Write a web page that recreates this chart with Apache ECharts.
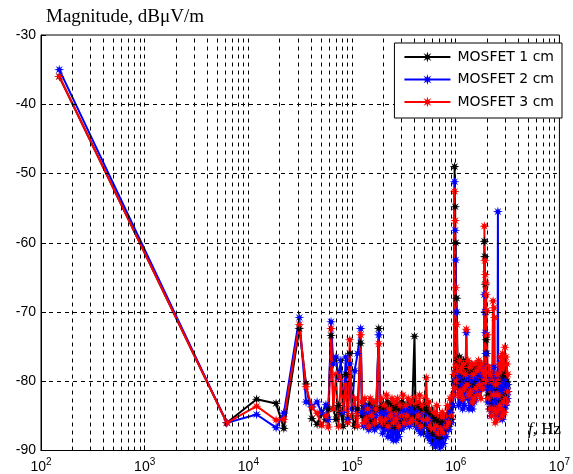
<!DOCTYPE html>
<html>
<head>
<meta charset="utf-8">
<script src="https://cdn.jsdelivr.net/npm/echarts@6/dist/echarts.min.js"></script>
<style>
  html, body { margin: 0; padding: 0; background: #fff; }
  #chart { width: 573px; height: 474px; }
</style>
</head>
<body>
<div id="chart"></div>
<script>
// frequency points (Hz), shared by the three measurements, one band per line
const freqHz = [
  150, 6200, 12000, 18500, 22000, 31000, 36000, 41000, 46000, 51000, 56000, 59000, 62700, 66000, 70000, 74000, 78000, 82000, 87000, 91000, 95000, 100000, 106000, 113000, 121000,
  125000, 129000, 133000, 137000, 141000, 145000, 150000, 155000, 160000, 165000, 170000, 181000, 186000, 191000, 197000, 203000, 209000, 215000, 222000, 229000, 236000, 243000, 250000, 258000, 266000, 274000, 282000, 291000, 300000, 309000, 318000, 328000, 338000, 348000, 358000, 369000, 380000, 400000, 410000, 422000, 435000, 448000, 461000, 475000, 489000, 504000, 520000, 535000, 551000, 567000, 584000, 601000, 619000, 638000, 657000, 677000, 697000, 718000, 740000, 762000, 785000, 808000, 832000, 857000, 883000, 910000, 937000,
  960000, 975000, 982000, 988000, 994000, 1000000, 1010000, 1020000,
  1040000, 1065000, 1090000, 1115000, 1140000, 1165000, 1190000, 1215000, 1240000, 1265000, 1290000, 1315000, 1340000, 1365000, 1390000, 1420000, 1450000, 1480000, 1510000, 1540000, 1570000, 1600000, 1630000, 1660000, 1690000, 1720000, 1750000, 1780000, 1810000, 1840000, 1870000,
  1890000, 1900000, 1910000, 1920000, 1930000, 1940000, 1950000, 1960000, 1970000, 1980000, 1990000, 2000000, 2010000,
  2040000, 2080000, 2120000, 2160000, 2200000, 2240000, 2290000, 2310000, 2330000, 2350000, 2370000, 2400000, 2430000, 2460000, 2500000, 2530000, 2550000, 2570000, 2600000, 2640000, 2670000, 2700000, 2740000, 2770000, 2810000, 2840000, 2880000, 2910000, 2950000, 2980000, 3020000, 3050000, 3090000, 3120000, 3150000, 3180000
];

// MOSFET 1 cm (black), dB
const mosfet1 = [
  -36.0, -86.0, -82.6, -83.2, -86.8, -72.4, -80.4, -85.4, -86.2, -84.6, -85.5, -84.0, -73.4, -84.0, -85.5, -83.5, -84.5, -86.5, -79.0, -85.5, -76.0, -85.0, -86.5, -84.0, -74.5,
  -85.0, -83.5, -86.0, -84.0, -86.5, -83.5, -85.5, -83.0, -86.0, -84.0, -86.5, -72.4, -84.0, -86.0, -83.5, -86.5, -84.0, -86.0, -83.0, -85.5, -83.5, -86.0, -84.0, -86.5, -83.5, -85.5, -84.0, -86.0, -83.0, -85.0, -83.5, -86.0, -84.0, -85.5, -83.0, -85.0, -84.0, -73.5, -84.5, -86.0, -83.5, -85.5, -84.0, -86.0, -83.5, -85.5, -84.0, -86.5, -84.5, -87.0, -85.0, -87.5, -85.5, -87.0, -85.5, -88.0, -86.0, -87.5, -86.0, -88.0, -86.5, -87.0, -85.0, -86.5, -84.5, -85.5, -83.5,
  -80.0, -49.0, -79.0, -54.8, -80.0, -60.0, -78.5, -68.0,
  -77.0, -80.5, -76.5, -79.5, -77.5, -81.0, -77.0, -80.0, -78.0, -79.0, -81.0, -78.0, -80.5, -77.5, -81.0, -78.5, -81.5, -79.0, -80.5, -78.0, -81.0, -79.0, -80.0, -77.5, -80.5, -78.0, -81.0, -77.5, -80.0, -78.5, -79.5,
  -59.8, -78.0, -62.0, -79.0, -66.0, -80.0, -70.0, -80.5, -74.0, -81.0, -76.0, -80.0, -78.0,
  -82.0, -80.0, -83.0, -80.5, -84.0, -81.0, -80.0, -82.5, -79.0, -84.0, -80.0, -83.0, -81.0, -84.5, -80.5, -83.5, -82.0, -80.5, -83.0, -80.0, -84.0, -80.5, -83.5, -81.0, -84.0, -79.5, -82.5, -80.5, -83.5, -79.0, -82.0, -80.5, -82.5, -80.0, -81.5, -80.5
];

// MOSFET 2 cm (blue), dB
const mosfet2 = [
  -35.0, -86.0, -84.8, -86.7, -84.6, -70.8, -83.0, -83.6, -83.0, -84.6, -83.4, -85.5, -71.4, -77.5, -76.5, -79.5, -77.0, -84.5, -76.5, -85.5, -77.5, -84.0, -78.5, -76.0, -72.4,
  -84.5, -86.5, -83.5, -86.0, -84.5, -87.0, -84.0, -86.5, -85.0, -87.0, -85.0, -73.3, -86.5, -84.5, -87.5, -85.0, -87.0, -84.5, -88.0, -85.5, -88.0, -85.0, -88.5, -85.5, -88.5, -86.0, -88.0, -85.0, -87.0, -84.5, -86.5, -84.0, -86.0, -84.5, -86.5, -84.0, -86.0, -84.5, -86.5, -84.5, -87.0, -85.0, -87.5, -85.5, -87.5, -85.0, -86.0, -88.0, -85.5, -88.5, -86.5, -89.0, -87.0, -89.5, -87.0, -89.0, -87.5, -89.5, -87.5, -89.0, -86.5, -88.0, -85.5, -87.0, -84.5, -86.0, -83.5,
  -82.0, -51.2, -80.0, -58.2, -81.0, -62.5, -79.0, -70.0,
  -80.0, -83.5, -79.5, -83.0, -80.5, -84.0, -81.0, -83.5, -80.0, -73.0, -82.5, -79.5, -84.0, -81.0, -83.5, -80.0, -84.0, -81.5, -83.0, -79.5, -82.5, -80.0, -81.5, -78.5, -80.5, -79.0, -81.0, -78.5, -80.5, -78.0, -79.5,
  -67.5, -79.0, -70.0, -80.0, -73.0, -79.0, -76.0, -81.0, -78.0, -80.0, -79.0, -81.0, -80.0,
  -83.0, -79.5, -84.0, -80.0, -85.0, -81.0, -80.0, -82.0, -78.0, -83.0, -79.0, -82.0, -80.0, -83.5, -79.5, -82.5, -55.5, -80.0, -84.0, -81.0, -85.0, -80.5, -84.0, -81.5, -85.5, -81.0, -83.5, -80.5, -84.0, -80.0, -83.5, -81.0, -83.0, -80.5, -82.5, -81.5
];

// MOSFET 3 cm (red), dB
const mosfet3 = [
  -36.0, -86.0, -83.6, -85.6, -85.5, -71.8, -80.8, -83.8, -84.6, -86.4, -85.0, -86.6, -72.4, -84.0, -79.0, -86.5, -79.5, -84.0, -80.5, -86.0, -74.0, -85.0, -82.5, -86.5, -73.3,
  -83.0, -86.0, -82.5, -85.5, -84.0, -86.5, -82.5, -85.0, -83.0, -86.0, -84.0, -74.6, -85.5, -82.5, -86.0, -83.5, -85.5, -82.0, -86.5, -84.0, -85.0, -82.5, -86.0, -83.0, -85.5, -82.5, -86.5, -83.5, -85.0, -82.0, -86.0, -83.5, -85.0, -82.5, -86.0, -83.0, -85.5, -82.5, -86.0, -83.0, -85.0, -82.0, -86.5, -83.5, -85.5, -82.5, -79.5, -85.5, -83.0, -86.5, -84.0, -87.0, -84.5, -86.5, -83.5, -87.5, -85.0, -87.0, -84.5, -87.5, -85.0, -86.5, -83.5, -86.0, -82.5, -85.0, -82.0,
  -79.0, -52.6, -81.0, -56.8, -78.0, -66.5, -80.0, -71.8,
  -78.5, -82.0, -77.0, -81.5, -78.0, -82.5, -77.5, -81.0, -79.0, -72.5, -80.5, -77.0, -82.0, -78.0, -81.5, -77.5, -83.0, -79.0, -82.5, -77.5, -81.0, -78.5, -82.0, -77.0, -80.5, -78.0, -82.5, -77.5, -81.0, -78.5, -80.0,
  -57.6, -79.0, -62.6, -80.0, -64.6, -78.5, -65.8, -80.0, -67.5, -79.0, -69.8, -78.0, -73.3,
  -82.5, -78.0, -84.0, -79.0, -85.0, -80.0, -68.4, -82.0, -69.4, -84.0, -70.8, -86.0, -80.5, -84.5, -79.0, -85.5, -82.0, -80.0, -84.0, -77.5, -83.5, -76.5, -84.0, -78.0, -85.0, -76.0, -83.0, -77.0, -84.5, -75.1, -82.5, -76.5, -83.0, -77.5, -81.5, -79.0
];

const seriesNames = ['MOSFET 1 cm', 'MOSFET 2 cm', 'MOSFET 3 cm'];
const seriesColors = ['#000000', '#0000ff', '#ff0000'];

// dotted grid positions
const decades = [100, 1000, 10000, 100000, 1000000];
const multipliers = [1, 2, 3, 4, 5, 6, 7, 8, 9];
const yGrid = [-80, -70, -60, -50, -40];

const starPath = 'path://M10,5 L6.8,5.8 L8.54,8.54 L5.8,6.8 L5,10 L4.2,6.8 L1.46,8.54 L3.2,5.8 L0,5 L3.2,4.2 L1.46,1.46 L4.2,3.2 L5,0 L5.8,3.2 L8.54,1.46 L6.8,4.2 Z';
const sansFont = 'Liberation Sans';
const serifFont = 'Liberation Serif';

const gridLines = [];
decades.forEach(d => {
  multipliers.forEach(m => {
    const v = d * m;
    if (v > 100) gridLines.push({ xAxis: v });
  });
});
yGrid.forEach(v => gridLines.push({ yAxis: v }));

function pairs(values) {
  return freqHz.map((f, i) => [f, values[i]]);
}

const chart = echarts.init(document.getElementById('chart'), null, { renderer: 'canvas' });

const dataSeries = [mosfet1, mosfet2, mosfet3].map((vals, i) => ({
  name: seriesNames[i],
  type: 'line',
  data: pairs(vals),
  color: seriesColors[i],
  lineStyle: { width: 2, color: seriesColors[i] },
  itemStyle: { color: seriesColors[i] },
  symbol: starPath,
  symbolSize: 10,
  showAllSymbol: true,
  animation: false
}));

chart.setOption({
  animation: false,
  backgroundColor: '#fff',
  title: {
    text: 'Magnitude, dBμV/m',
    left: 41,
    top: 3,
    textStyle: {
      fontFamily: serifFont,
      fontWeight: 'normal',
      fontSize: 19,
      color: '#000'
    }
  },
  grid: {
    left: 41,
    right: 10,
    top: 35,
    bottom: 20,
    show: true,
    borderColor: '#000',
    borderWidth: 1,
    backgroundColor: 'transparent'
  },
  legend: {
    data: seriesNames,
    orient: 'vertical',
    right: 11,
    top: 43,
    z: 10,
    padding: [7, 8, 9, 9],
    itemGap: 8.5,
    itemWidth: 46,
    itemHeight: 14,
    backgroundColor: '#fff',
    borderColor: '#000',
    borderWidth: 1,
    borderRadius: 0,
    textStyle: { fontFamily: 'DejaVu Sans', fontSize: 14, color: '#000', padding: [0, 0, 0, 2] }
  },
  xAxis: {
    type: 'log',
    logBase: 10,
    min: 100,
    max: 10000000,
    axisLine: { show: true, lineStyle: { color: '#000', width: 1 } },
    axisTick: { show: true, inside: true, length: 5, lineStyle: { color: '#000' } },
    splitLine: { show: false },
    axisLabel: {
      margin: 7,
      color: '#000',
      formatter: v => '{b|10}{s|' + Math.round(Math.log10(v)) + '}',
      rich: {
        b: { fontFamily: sansFont, fontSize: 14, color: '#000' },
        s: { fontFamily: sansFont, fontSize: 10, color: '#000', verticalAlign: 'bottom', padding: [0, 0, 9, 0] }
      }
    }
  },
  yAxis: {
    type: 'value',
    min: -90,
    max: -30,
    interval: 10,
    axisLine: { show: true, lineStyle: { color: '#000', width: 1 } },
    axisTick: { show: true, inside: true, length: 5, lineStyle: { color: '#000' } },
    splitLine: { show: false },
    axisLabel: { margin: 5, color: '#000', fontFamily: sansFont, fontSize: 14 }
  },
  graphic: [{
    type: 'text',
    right: 12,
    top: 421,
    z: 100,
    style: {
      text: '{i|f}, Hz',
      fill: '#000',
      font: '17px "Liberation Serif"',
      rich: {
        i: { fontStyle: 'italic', fontFamily: serifFont, fontSize: 17, fill: '#000' }
      }
    }
  }],
  series: [{
    name: 'grid',
    type: 'line',
    data: [],
    silent: true,
    animation: false,
    markLine: {
      silent: true,
      animation: false,
      symbol: 'none',
      label: { show: false },
      lineStyle: { color: '#000', type: [4, 4], width: 1 },
      data: gridLines
    }
  }].concat(dataSeries)
});
</script>
</body>
</html>
